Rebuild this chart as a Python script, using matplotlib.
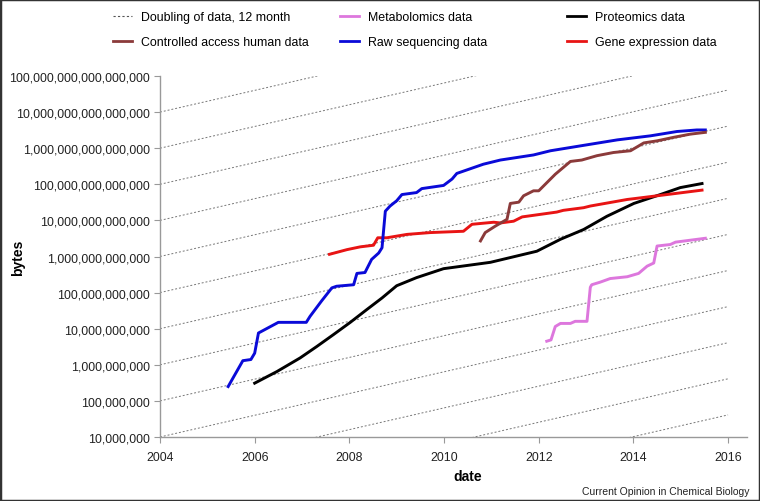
import numpy as np
import matplotlib
matplotlib.use('Agg')
import matplotlib.pyplot as plt
from matplotlib.ticker import FuncFormatter, LogLocator, NullLocator
from matplotlib.lines import Line2D
from matplotlib.patches import Rectangle

plt.rcParams['font.family'] = ['Liberation Sans', 'DejaVu Sans']

# Datos (fecha, bytes)
raw_t = [2005.44, 2005.75, 2005.92, 2006.00, 2006.08, 2006.50, 2007.09, 2007.17,
         2007.41, 2007.63, 2007.73, 2008.09, 2008.16, 2008.33, 2008.47, 2008.62,
         2008.69, 2008.76, 2008.86, 2009.00, 2009.11, 2009.42, 2009.53, 2009.99,
         2010.17, 2010.27, 2010.83, 2011.19, 2011.89, 2012.25, 2012.95, 2013.66,
         2014.36, 2014.92, 2015.34, 2015.52]
raw_b = [2.5e8, 1.3e9, 1.4e9, 2.1e9, 7.6e9, 1.5e10, 1.5e10, 2.2e10,
         5.8e10, 1.35e11, 1.5e11, 1.65e11, 3.4e11, 3.6e11, 8.3e11, 1.25e12,
         1.75e12, 1.8e13, 2.5e13, 3.5e13, 5.2e13, 5.9e13, 7.6e13, 9.3e13,
         1.4e14, 2.0e14, 3.6e14, 4.7e14, 6.5e14, 8.5e14, 1.2e15, 1.7e15,
         2.2e15, 2.9e15, 3.2e15, 3.2e15]

ctrl_t = [2010.77, 2010.87, 2011.08, 2011.33, 2011.40, 2011.58, 2011.68, 2011.89,
          2012.00, 2012.35, 2012.67, 2012.91, 2013.23, 2013.58, 2013.94, 2014.22,
          2014.50, 2014.85, 2015.20, 2015.52]
ctrl_b = [2.7e12, 4.6e12, 6.9e12, 1.07e13, 2.95e13, 3.2e13, 4.8e13, 6.6e13,
          6.6e13, 1.9e14, 4.3e14, 4.7e14, 6.2e14, 7.6e14, 8.5e14, 1.4e15,
          1.6e15, 2.0e15, 2.45e15, 2.75e15]

gene_t = [2007.58, 2007.95, 2008.23, 2008.51, 2008.60, 2008.79, 2009.22, 2009.71,
          2010.41, 2010.59, 2011.05, 2011.19, 2011.47, 2011.65, 2012.38, 2012.52,
          2012.95, 2013.09, 2013.87, 2014.01, 2014.71, 2015.45]
gene_b = [1.15e12, 1.55e12, 1.85e12, 2.05e12, 3.3e12, 3.3e12, 4.1e12, 4.6e12,
          5.0e12, 7.8e12, 8.9e12, 8.5e12, 9.5e12, 1.25e13, 1.7e13, 1.9e13,
          2.25e13, 2.5e13, 3.8e13, 4.0e13, 5.2e13, 6.9e13]

prot_t = [2006.00, 2006.47, 2006.96, 2007.31, 2007.66, 2008.02, 2008.37, 2008.69,
          2009.00, 2009.42, 2009.99, 2010.98, 2011.96, 2012.46, 2012.95, 2013.44,
          2014.01, 2014.57, 2014.99, 2015.45]
prot_b = [3.1e8, 6.5e8, 1.55e9, 3.2e9, 6.8e9, 1.5e10, 3.4e10, 7.1e10,
          1.55e11, 2.6e11, 4.6e11, 6.9e11, 1.4e12, 3.0e12, 5.6e12, 1.3e13,
          2.95e13, 5.2e13, 8.1e13, 1.05e14]

meta_t = [2012.17, 2012.26, 2012.35, 2012.46, 2012.67, 2012.77, 2013.02, 2013.09,
          2013.12, 2013.30, 2013.51, 2013.87, 2014.11, 2014.29, 2014.43, 2014.50,
          2014.78, 2014.89, 2015.52]
meta_b = [4.5e9, 4.9e9, 1.15e10, 1.4e10, 1.4e10, 1.6e10, 1.6e10, 1.4e11,
          1.65e11, 1.95e11, 2.45e11, 2.75e11, 3.4e11, 5.4e11, 6.6e11, 1.95e12,
          2.15e12, 2.5e12, 3.2e12]

# Lineas de referencia: duplicacion cada 12 meses, una por decada en 2004
doubling_start = [1e4, 1e5, 1e6, 1e7, 1e8, 1e9, 1e10, 1e11, 1e12, 1e13, 1e14, 1e15, 1e16]

COLOR_RAW = '#0a0ad8'
COLOR_CTRL = '#8b3a3a'
COLOR_GENE = '#e81414'
COLOR_PROT = '#000000'
COLOR_META = '#dd77dd'
COLOR_EJE = '#999999'

fig = plt.figure(figsize=(7.6, 5.02), dpi=100)
ax = fig.add_axes([160 / 760, 64 / 502, 587 / 760, 361 / 502])

t = np.linspace(2004, 2016, 200)
for y0 in doubling_start:
    ax.plot(t, y0 * 2 ** (t - 2004), color='#777777', linestyle=(0, (2, 2)),
            linewidth=0.7, zorder=1)

ax.plot(prot_t, prot_b, color=COLOR_PROT, linewidth=2.1, zorder=3)
ax.plot(gene_t, gene_b, color=COLOR_GENE, linewidth=2.1, zorder=3)
ax.plot(raw_t, raw_b, color=COLOR_RAW, linewidth=2.1, zorder=3)
ax.plot(ctrl_t, ctrl_b, color=COLOR_CTRL, linewidth=2.1, zorder=3)
ax.plot(meta_t, meta_b, color=COLOR_META, linewidth=2.1, zorder=3)

ax.set_yscale('log')
ax.set_ylim(1e7, 1e17)
ax.set_xlim(2004, 2016.4)
ax.set_xticks([2004, 2006, 2008, 2010, 2012, 2014, 2016])
ax.yaxis.set_major_locator(LogLocator(base=10, numticks=20))
ax.yaxis.set_minor_locator(NullLocator())
ax.yaxis.set_major_formatter(FuncFormatter(lambda v, p: f'{int(round(v)):,}'))

for lado in ['top', 'right']:
    ax.spines[lado].set_visible(False)
for lado in ['left', 'bottom']:
    ax.spines[lado].set_color(COLOR_EJE)
    ax.spines[lado].set_linewidth(1)
ax.tick_params(axis='both', colors=COLOR_EJE, labelcolor='#222222', labelsize=8.9,
               length=4, width=0.8, direction='out')
ax.tick_params(axis='x', pad=6)

fig.text(468 / 760, 1 - 477 / 502, 'date', ha='center', va='center',
         fontsize=10, fontweight='bold')
fig.text(18 / 760, 1 - 258 / 502, 'bytes', ha='center', va='center',
         rotation=90, fontsize=10, fontweight='bold')
fig.text(749 / 760, 1 - 492 / 502, 'Current Opinion in Chemical Biology',
         ha='right', va='center', fontsize=7.5, color='#222222')

# Leyenda en tres columnas
columnas = [
    [('Doubling of data, 12 month', '#555555', (0, (2, 2)), 0.8),
     ('Controlled access human data', COLOR_CTRL, '-', 2)],
    [('Metabolomics data', COLOR_META, '-', 2),
     ('Raw sequencing data', COLOR_RAW, '-', 2)],
    [('Proteomics data', COLOR_PROT, '-', 2),
     ('Gene expression data', COLOR_GENE, '-', 2)],
]
x_col = [113, 340, 567]
for xc, col in zip(x_col, columnas):
    handles = [Line2D([], [], color=c, linestyle=ls, linewidth=lw) for _, c, ls, lw in col]
    labels = [lab for lab, _, _, _ in col]
    leg = fig.legend(handles, labels, loc='upper left',
                     bbox_to_anchor=(xc / 760, 1 - 12 / 502), frameon=False,
                     fontsize=8.9, handlelength=1.5, handletextpad=0.75,
                     labelspacing=1.05, borderpad=0, borderaxespad=0)

fig.patches.append(Rectangle((0, 0), 1, 1, transform=fig.transFigure, fill=False,
                             edgecolor='#333333', linewidth=2.5))

fig.savefig('out.png', dpi=100)
plt.close()
